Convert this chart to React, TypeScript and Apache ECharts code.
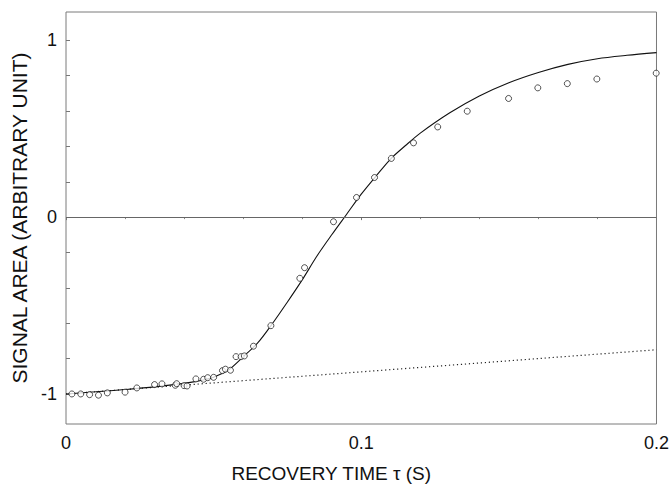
import React, { useEffect, useRef } from "react";
import * as echarts from "echarts";

// Observed signal (circles)
const obsTime = [
  0.002, 0.005, 0.008, 0.011, 0.014, 0.02, 0.024, 0.03, 0.0325, 0.037, 0.0375, 0.04, 0.041,
  0.044, 0.0466, 0.048, 0.05, 0.053, 0.054, 0.0557, 0.0576, 0.0593, 0.0604, 0.0635, 0.0694,
  0.0792, 0.0808, 0.0906, 0.0984, 0.1045, 0.1102, 0.1177, 0.1259, 0.1359, 0.1499, 0.1598,
  0.1698, 0.1798, 0.1999,
];
const obsSignal = [
  -1.0, -1.0, -1.004, -1.007, -0.994, -0.99, -0.966, -0.947, -0.943, -0.951, -0.942, -0.953,
  -0.955, -0.915, -0.917, -0.908, -0.906, -0.868, -0.86, -0.866, -0.789, -0.789, -0.785, -0.73,
  -0.614, -0.346, -0.286, -0.026, 0.111, 0.224, 0.332, 0.42, 0.51, 0.599, 0.671, 0.731, 0.755,
  0.781, 0.814,
];

// Fitted curve (solid line)
const fitTime = [
  0, 0.01, 0.02, 0.03, 0.04, 0.045, 0.05, 0.055, 0.06, 0.065, 0.07, 0.075, 0.08, 0.085, 0.09,
  0.095, 0.1, 0.105, 0.11, 0.115, 0.12, 0.13, 0.14, 0.15, 0.16, 0.17, 0.18, 0.19, 0.2,
];
const fitSignal = [
  -1.0, -0.988, -0.975, -0.96, -0.94, -0.926, -0.905, -0.865, -0.79, -0.71, -0.6, -0.48, -0.355,
  -0.22, -0.1, 0.015, 0.13, 0.232, 0.33, 0.405, 0.475, 0.59, 0.685, 0.76, 0.818, 0.864, 0.896,
  0.915, 0.93,
];

// Slow component (dotted line)
const baseTime = [0, 0.2];
const baseSignal = [-1.0, -0.75];

// Axis ticks
const yTickLabels = [-1, 0, 1];
const yMinorTicks = [-1, -0.8, -0.6, -0.4, -0.2, 0, 0.2, 0.4, 0.6, 0.8, 1];

const zip = (a: number[], b: number[]) => a.map((v, i) => [v, b[i]]);

export default function App() {
  const ref = useRef<HTMLDivElement>(null);
  useEffect(() => {
    const chart = echarts.init(ref.current!, null, { renderer: "svg" });
    const font = "'Liberation Sans', Arial, Helvetica, sans-serif";
    chart.setOption({
      animation: false,
      backgroundColor: "#ffffff",
      textStyle: { fontFamily: font },
      grid: {
        left: 66,
        top: 12,
        right: 13,
        bottom: 65,
        show: true,
        borderColor: "#7a7a7a",
        borderWidth: 1,
        backgroundColor: "transparent",
      },
      xAxis: {
        type: "value",
        min: 0,
        max: 0.2,
        interval: 0.1,
        name: "RECOVERY TIME \u03C4 (S)",
        nameLocation: "middle",
        nameGap: 40,
        nameTextStyle: { fontFamily: font, fontSize: 19, color: "#111", padding: [0, 60, 0, 0] },
        axisLine: { show: false },
        axisTick: { show: true, inside: false, length: 3, lineStyle: { color: "#777" } },
        minorTick: { show: true, splitNumber: 5, length: 2, lineStyle: { color: "#888" } },
        splitLine: { show: false },
        axisLabel: {
          fontFamily: font,
          fontSize: 18,
          color: "#111",
          margin: 10,
          formatter: (v: number) => (v === 0 ? "0" : String(v)),
        },
      },
      yAxis: {
        type: "value",
        min: -1.17,
        max: 1.16,
        name: "SIGNAL AREA (ARBITRARY UNIT)",
        nameLocation: "middle",
        nameGap: 35,
        nameTextStyle: { fontFamily: font, fontSize: 21, color: "#111" },
        axisLine: { show: false },
        axisTick: {
          show: true,
          inside: true,
          length: 4,
          customValues: yMinorTicks,
          lineStyle: { color: "#777" },
        },
        splitLine: { show: false },
        axisLabel: {
          fontFamily: font,
          fontSize: 18,
          color: "#111",
          margin: 9,
          customValues: yTickLabels,
          formatter: (v: number) => String(v),
        },
      },
      series: [
        {
          type: "line",
          data: zip(baseTime, baseSignal),
          symbol: "none",
          lineStyle: { color: "#222", width: 1.2, type: [1.2, 2.8] },
          z: 2,
        },
        {
          type: "line",
          data: zip(fitTime, fitSignal),
          symbol: "none",
          smooth: 0.3,
          lineStyle: { color: "#111", width: 1.1 },
          markLine: {
            silent: true,
            symbol: "none",
            label: { show: false },
            lineStyle: { color: "#666", type: "solid", width: 1 },
            data: [{ yAxis: 0 }],
          },
          z: 3,
        },
        {
          type: "scatter",
          data: zip(obsTime, obsSignal),
          symbol: "circle",
          symbolSize: 6,
          itemStyle: { color: "#ffffff", borderColor: "#111", borderWidth: 0.9 },
          z: 4,
        },
      ],
    });
    return () => chart.dispose();
  }, []);
  return (
    <div
      ref={ref}
      style={{ position: "fixed", left: 0, top: 0, width: 672, height: 489, background: "#fff" }}
    />
  );
}
